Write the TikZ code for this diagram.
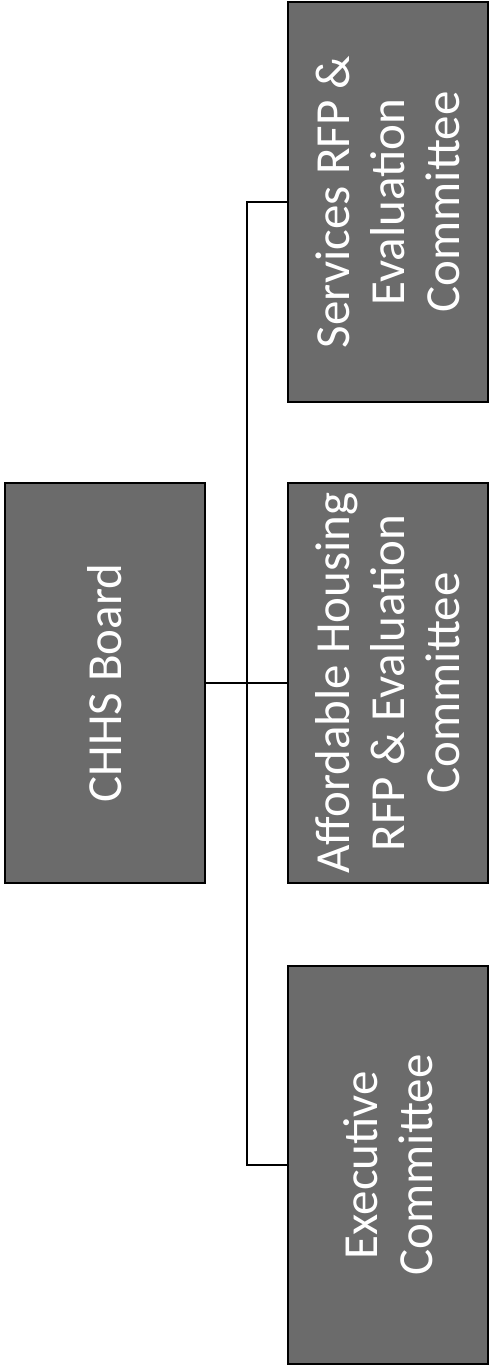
\documentclass[tikz,border=0pt]{standalone}
\usepackage{fontspec}
\setmainfont{Carlito}
\usepackage{xcolor}
\usepackage{tikz}
\definecolor{boxgray}{rgb}{0.42,0.42,0.42}

\begin{document}
\begin{tikzpicture}[x=1pt,y=-1pt]
    \def\bw{400}
    \def\bh{200}
    \def\lx{105}
    \def\rx{388}

    \tikzstyle{unit}=[rotate=90,draw=black,line width=2.2pt,fill=boxgray,text=white,
        minimum width=\bw pt,minimum height=\bh pt,inner sep=0pt,align=center,
        font=\fontsize{49}{55}\selectfont]
    \tikzstyle{link}=[draw=black,line width=2pt]

    \useasboundingbox (0,0) rectangle (490,1367);

    \node[unit] (board) at (\lx,683) {CHHS Board};

    \node[unit] (services) at (\rx,202) {Services RFP \&\\Evaluation\\Committee};
    \node[unit] (housing) at (\rx,683) {Affordable Housing\\RFP \& Evaluation\\Committee};
    \node[unit,minimum width=398pt] (exec) at (\rx,1165) {Executive\\Committee};

    \draw [link] (board.south) -- (housing.north);
    \draw [link] (services.north) -- ++(-40,0) |- (exec.north);

\end{tikzpicture}
\end{document}
